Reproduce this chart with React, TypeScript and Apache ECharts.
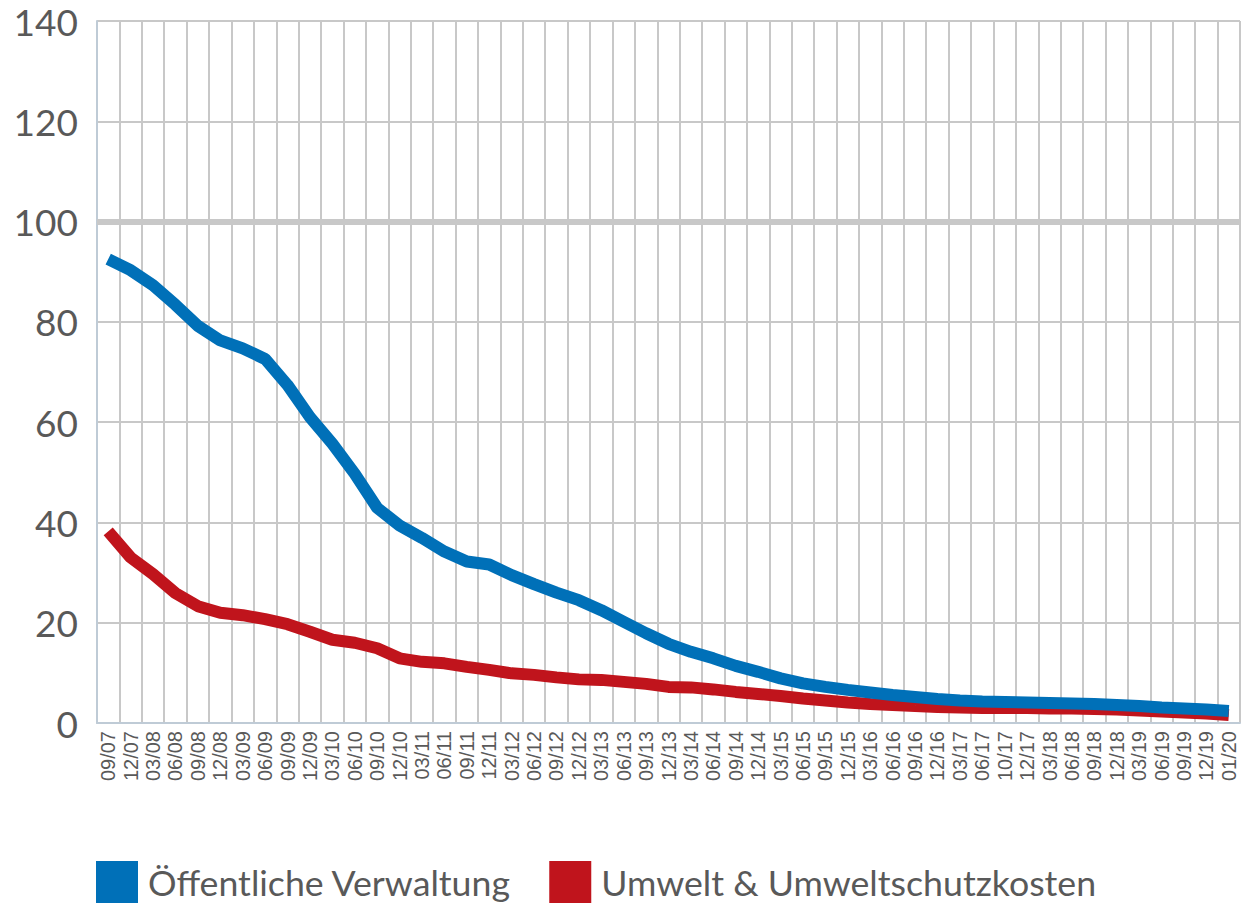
import React, { useEffect, useRef } from "react";
import * as echarts from "echarts";

const categories: string[] = [
  "09/07", "12/07", "03/08", "06/08", "09/08", "12/08", "03/09", "06/09", "09/09", "12/09",
  "03/10", "06/10", "09/10", "12/10", "03/11", "06/11", "09/11", "12/11", "03/12", "06/12",
  "09/12", "12/12", "03/13", "06/13", "09/13", "12/13", "03/14", "06/14", "09/14", "12/14",
  "03/15", "06/15", "09/15", "12/15", "03/16", "06/16", "09/16", "12/16", "03/17", "06/17",
  "10/17", "12/17", "03/18", "06/18", "09/18", "12/18", "03/19", "06/19", "09/19", "12/19",
  "01/20",
];

const verwaltung: number[] = [
  92.5, 90.3, 87.3, 83.4, 79.2, 76.3, 74.7, 72.6, 67.4, 61.0,
  55.7, 49.7, 42.9, 39.4, 36.9, 34.2, 32.2, 31.6, 29.5, 27.7,
  26.0, 24.5, 22.5, 20.2, 17.9, 15.8, 14.2, 12.9, 11.4, 10.2,
  8.9, 7.9, 7.2, 6.6, 6.1, 5.6, 5.2, 4.8, 4.5, 4.3,
  4.2, 4.1, 4.0, 3.9, 3.8, 3.6, 3.4, 3.1, 2.9, 2.7,
  2.4,
];

const umwelt: number[] = [
  38.2, 33.0, 29.7, 25.9, 23.3, 22.0, 21.5, 20.7, 19.7, 18.2,
  16.6, 16.0, 14.9, 12.9, 12.2, 11.9, 11.2, 10.6, 9.9, 9.6,
  9.1, 8.7, 8.6, 8.2, 7.8, 7.2, 7.1, 6.7, 6.2, 5.8,
  5.4, 4.9, 4.5, 4.1, 3.8, 3.6, 3.4, 3.2, 3.1, 3.0,
  3.0, 3.0, 2.9, 2.9, 2.8, 2.7, 2.5, 2.3, 2.1, 1.9,
  1.6,
];

const seriesNames: string[] = ["Öffentliche Verwaltung", "Umwelt & Umweltschutzkosten"];
const referenceLevel: number[] = [100];

export default function App() {
  const ref = useRef<HTMLDivElement>(null);

  useEffect(() => {
    document.body.style.margin = "0";
    if (!ref.current) return;
    const chart = echarts.init(ref.current, undefined, { renderer: "svg" });
    chart.setOption({
      animation: false,
      backgroundColor: "#ffffff",
      grid: { left: 97, right: 5, top: 21, bottom: 182, containLabel: false },
      legend: {
        data: seriesNames,
        left: 96,
        top: 861,
        padding: 0,
        icon: "rect",
        itemWidth: 42,
        itemHeight: 42,
        itemGap: 38,
        textStyle: {
          fontSize: 35.7,
          color: "#595959",
          fontFamily: "Lato",
          padding: [0, 0, 0, 5],
        },
      },
      xAxis: {
        type: "category",
        data: categories,
        boundaryGap: true,
        axisTick: { show: false },
        axisLine: { show: true, lineStyle: { color: "#bfcbd6", width: 2 } },
        splitLine: { show: true, lineStyle: { color: "#c8c8c8", width: 2 } },
        axisLabel: {
          rotate: 90,
          interval: 0,
          fontSize: 20,
          color: "#595959",
          fontFamily: "Liberation Sans",
          margin: 8,
        },
      },
      yAxis: {
        type: "value",
        min: 0,
        max: 140,
        interval: 20,
        axisLine: { show: true, lineStyle: { color: "#bfcbd6", width: 2 } },
        axisTick: { show: false },
        splitLine: { show: true, lineStyle: { color: "#c8c8c8", width: 2 } },
        axisLabel: {
          fontSize: 37,
          color: "#595959",
          fontFamily: "Lato",
          margin: 19,
        },
      },
      series: [
        {
          name: "ref",
          type: "line",
          data: [],
          z: 1,
          silent: true,
          markLine: {
            silent: true,
            symbol: ["none", "none"],
            label: { show: false },
            lineStyle: { color: "#c8c8c8", width: 6, type: "solid" },
            data: referenceLevel.map((v) => ({ yAxis: v })),
          },
        },
        {
          name: seriesNames[0],
          type: "line",
          data: verwaltung,
          showSymbol: false,
          symbol: "none",
          z: 3,
          itemStyle: { color: "#0070b8" },
          lineStyle: { color: "#0070b8", width: 12 },
        },
        {
          name: seriesNames[1],
          type: "line",
          data: umwelt,
          showSymbol: false,
          symbol: "none",
          z: 2,
          itemStyle: { color: "#c0141c" },
          lineStyle: { color: "#c0141c", width: 12 },
        },
      ],
    });
    return () => chart.dispose();
  }, []);

  return <div ref={ref} style={{ width: 1245, height: 905 }} />;
}
